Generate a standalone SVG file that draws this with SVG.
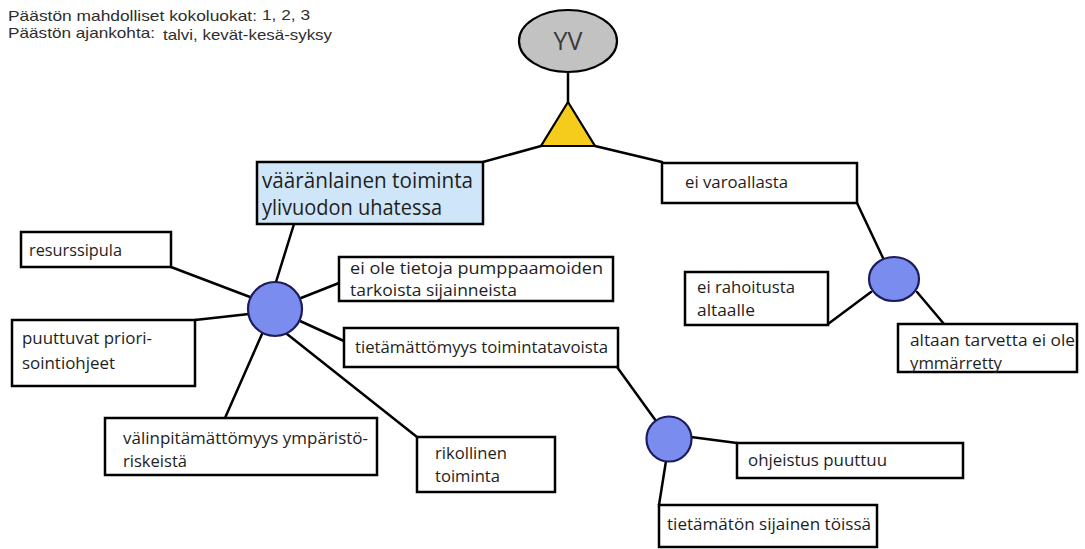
<svg xmlns="http://www.w3.org/2000/svg" width="1085" height="549" viewBox="0 0 1085 549">
  <style>
    text { font-family: "Open Sans", "Liberation Sans", sans-serif; fill: #1e1e1e; }
    .box { fill: #ffffff; stroke: #000; stroke-width: 2.5; }
    .top { fill: #cfe6f8; stroke: #000; stroke-width: 2.5; }
    .gate { fill: #7a8cee; stroke: #1c1c5c; stroke-width: 2.2; }
    .lbl { font-size: 16.5px; }
    .big { font-size: 21px; }
    .note { font-family: "Liberation Sans", "Open Sans", sans-serif; font-size: 14.5px; fill: #2e2e2e; }
    #connectors line { stroke: #000; stroke-width: 2.5; stroke-linecap: round; }
  </style>

  <!-- header notes -->
  <g id="notes">
    <text class="note" x="8" y="21" textLength="249" lengthAdjust="spacingAndGlyphs">Päästön mahdolliset kokoluokat:</text>
    <text class="note" x="262" y="20" textLength="48" lengthAdjust="spacingAndGlyphs" style="font-size:15px">1, 2, 3</text>
    <text class="note" x="8" y="38" textLength="147" lengthAdjust="spacingAndGlyphs">Päästön ajankohta:</text>
    <text class="note" x="163" y="40" textLength="169" lengthAdjust="spacingAndGlyphs" style="font-size:15px">talvi, kevät-kesä-syksy</text>
  </g>

  <!-- connectors -->
  <g id="connectors">
    <line x1="568" y1="72" x2="568" y2="102"/>
    <line x1="541" y1="146" x2="483" y2="162"/>
    <line x1="595" y1="146" x2="662" y2="162"/>
    <line x1="294" y1="224" x2="276" y2="282"/>
    <line x1="250" y1="297" x2="171" y2="267"/>
    <line x1="249" y1="314" x2="195" y2="320"/>
    <line x1="262" y1="334" x2="225" y2="418"/>
    <line x1="287" y1="334" x2="417" y2="437"/>
    <line x1="301" y1="298" x2="339" y2="283"/>
    <line x1="300" y1="321" x2="344" y2="341"/>
    <line x1="617" y1="367" x2="656" y2="421"/>
    <line x1="691" y1="437" x2="737" y2="443"/>
    <line x1="666" y1="461" x2="659" y2="505"/>
    <line x1="857" y1="203" x2="883" y2="258"/>
    <line x1="828" y1="324" x2="871" y2="292"/>
    <line x1="917" y1="292" x2="944" y2="324"/>
  </g>

  <!-- top event -->
  <g id="yv">
    <ellipse cx="568" cy="41" rx="49" ry="31" fill="#c2c2c2" stroke="#000" stroke-width="2.2"/>
    <text x="568" y="50" text-anchor="middle" style="font-size:25px;fill:#3a3a3a">YV</text>
  </g>

  <g id="gate-and">
    <polygon points="568,102 541,146 595,146" fill="#f5cb1c" stroke="#000" stroke-width="2.2" stroke-linejoin="miter"/>
  </g>

  <g id="vaaranlainen">
    <rect class="top" x="257" y="162" width="226" height="62"/>
    <text class="big" x="262" y="188" textLength="211" lengthAdjust="spacingAndGlyphs">vääränlainen toiminta</text>
    <text class="big" x="262" y="215" textLength="180" lengthAdjust="spacingAndGlyphs">ylivuodon uhatessa</text>
  </g>

  <g id="ei-varoallasta">
    <rect class="box" x="662" y="163" width="195" height="40"/>
    <text class="lbl" x="685" y="188" textLength="103" lengthAdjust="spacingAndGlyphs">ei varoallasta</text>
  </g>

  <!-- OR gates -->
  <g id="gate-1">
    <circle class="gate" cx="275" cy="309" r="27"/>
  </g>
  <g id="gate-2">
    <circle class="gate" cx="669" cy="439" r="22.5"/>
  </g>
  <g id="gate-3">
    <ellipse class="gate" cx="894" cy="279" rx="25" ry="22"/>
  </g>

  <!-- basic events -->
  <g id="resurssipula">
    <rect class="box" x="21" y="232" width="150" height="35"/>
    <text class="lbl" x="29" y="256" textLength="93" lengthAdjust="spacingAndGlyphs">resurssipula</text>
  </g>

  <g id="puuttuvat">
    <rect class="box" x="12" y="320" width="183" height="66"/>
    <text class="lbl" x="22" y="344" textLength="130" lengthAdjust="spacingAndGlyphs">puuttuvat priori-</text>
    <text class="lbl" x="22" y="369" textLength="93" lengthAdjust="spacingAndGlyphs">sointiohjeet</text>
  </g>

  <g id="valinpitamattomyys">
    <rect class="box" x="105" y="418" width="272" height="57"/>
    <text class="lbl" x="123" y="444" textLength="245" lengthAdjust="spacingAndGlyphs">välinpitämättömyys ympäristö-</text>
    <text class="lbl" x="123" y="467" textLength="64" lengthAdjust="spacingAndGlyphs">riskeistä</text>
  </g>

  <g id="rikollinen">
    <rect class="box" x="417" y="437" width="138" height="55"/>
    <text class="lbl" x="435" y="459" textLength="72" lengthAdjust="spacingAndGlyphs">rikollinen</text>
    <text class="lbl" x="435" y="482" textLength="65" lengthAdjust="spacingAndGlyphs">toiminta</text>
  </g>

  <g id="ei-ole-tietoja">
    <rect class="box" x="339" y="257" width="274" height="44"/>
    <text class="lbl" x="350" y="274" textLength="253" lengthAdjust="spacingAndGlyphs">ei ole tietoja pumppaamoiden</text>
    <text class="lbl" x="350" y="296" textLength="167" lengthAdjust="spacingAndGlyphs">tarkoista sijainneista</text>
  </g>

  <g id="tietamattomyys">
    <rect class="box" x="344" y="328" width="274" height="39"/>
    <text class="lbl" x="355" y="353" textLength="253" lengthAdjust="spacingAndGlyphs">tietämättömyys toimintatavoista</text>
  </g>

  <g id="ohjeistus">
    <rect class="box" x="737" y="443" width="226" height="35"/>
    <text class="lbl" x="748" y="466" textLength="139" lengthAdjust="spacingAndGlyphs">ohjeistus puuttuu</text>
  </g>

  <g id="tietamaton-sijainen">
    <rect class="box" x="659" y="505" width="218" height="42"/>
    <text class="lbl" x="667" y="530" textLength="204" lengthAdjust="spacingAndGlyphs">tietämätön sijainen töissä</text>
  </g>

  <g id="ei-rahoitusta">
    <rect class="box" x="685" y="272" width="143" height="53"/>
    <text class="lbl" x="697" y="293" textLength="98" lengthAdjust="spacingAndGlyphs">ei rahoitusta</text>
    <text class="lbl" x="697" y="316" textLength="58" lengthAdjust="spacingAndGlyphs">altaalle</text>
  </g>

  <g id="altaan-tarvetta">
    <rect class="box" x="898" y="324" width="179" height="48"/>
    <text class="lbl" x="910" y="346" textLength="165" lengthAdjust="spacingAndGlyphs">altaan tarvetta ei ole</text>
    <text class="lbl" x="910" y="369" textLength="92" lengthAdjust="spacingAndGlyphs">ymmärretty</text>
  </g>
</svg>
